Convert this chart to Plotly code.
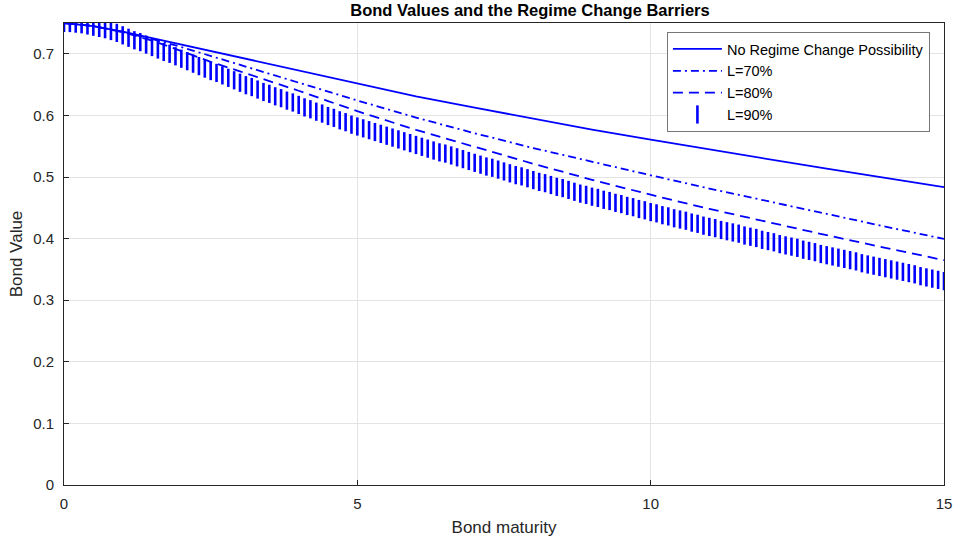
import plotly.graph_objects as go

# Bond maturity (years) for the three line series
t_line = [0, 0.5, 1, 1.5, 2, 2.5, 3, 3.5, 4, 4.5, 5, 6, 7, 8, 9, 10, 11, 12, 13, 14, 15]
no_regime = [0.750, 0.745, 0.736, 0.7255, 0.715, 0.704, 0.6935, 0.683, 0.6725, 0.6618, 0.6513,
             0.631, 0.6125, 0.5945, 0.577, 0.5605, 0.5445, 0.5288, 0.5135, 0.4985, 0.4835]
l70 = [0.750, 0.745, 0.7355, 0.724, 0.711, 0.6965, 0.6822, 0.6678, 0.6533, 0.6386, 0.6242,
       0.5965, 0.571, 0.547, 0.5243, 0.5028, 0.4813, 0.4603, 0.4397, 0.4195, 0.3995]
l80 = [0.750, 0.745, 0.735, 0.7215, 0.7045, 0.687, 0.6715, 0.656, 0.640, 0.6233, 0.6068,
       0.5765, 0.5485, 0.5215, 0.4955, 0.4712, 0.4482, 0.4263, 0.4055, 0.385, 0.365]

# L=90% series (dense marker series), maturity step 0.1
t_l90 = [i / 10 for i in range(151)]
l90 = [
    0.750, 0.750, 0.749, 0.748, 0.746, 0.744, 0.742, 0.740, 0.737, 0.734,
    0.730, 0.726, 0.722, 0.719, 0.715, 0.711, 0.707, 0.703, 0.700, 0.696,
    0.692, 0.688, 0.684, 0.680, 0.676, 0.672, 0.669, 0.665, 0.661, 0.657,
    0.653, 0.649, 0.646, 0.642, 0.638, 0.635, 0.631, 0.628, 0.624, 0.621,
    0.617, 0.613, 0.610, 0.606, 0.603, 0.599, 0.596, 0.592, 0.589, 0.585,
    0.582, 0.579, 0.576, 0.573, 0.570, 0.567, 0.564, 0.561, 0.558, 0.555,
    0.552, 0.549, 0.546, 0.543, 0.540, 0.538, 0.535, 0.532, 0.529, 0.526,
    0.523, 0.520, 0.517, 0.515, 0.512, 0.509, 0.506, 0.503, 0.501, 0.498,
    0.495, 0.492, 0.490, 0.487, 0.484, 0.482, 0.479, 0.476, 0.473, 0.471,
    0.468, 0.466, 0.463, 0.461, 0.458, 0.456, 0.453, 0.451, 0.448, 0.446,
    0.443, 0.441, 0.438, 0.436, 0.433, 0.431, 0.429, 0.426, 0.424, 0.421,
    0.419, 0.417, 0.414, 0.412, 0.410, 0.408, 0.405, 0.403, 0.401, 0.398,
    0.396, 0.394, 0.391, 0.389, 0.387, 0.385, 0.382, 0.380, 0.378, 0.375,
    0.373, 0.371, 0.369, 0.367, 0.365, 0.363, 0.360, 0.358, 0.356, 0.354,
    0.352, 0.350, 0.348, 0.346, 0.344, 0.342, 0.339, 0.337, 0.335, 0.333,
    0.331,
]

x_ticks = [0, 5, 10, 15]
y_ticks = [0, 0.1, 0.2, 0.3, 0.4, 0.5, 0.6, 0.7]
y_tick_labels = ["0", "0.1", "0.2", "0.3", "0.4", "0.5", "0.6", "0.7"]

BLUE = "#0000ff"
FONT = "Liberation Sans, Arial, sans-serif"
AX = "#262626"

fig = go.Figure()
fig.add_trace(go.Scatter(x=t_line, y=no_regime, mode="lines", name="No Regime Change Possibility",
                         line=dict(color=BLUE, width=1.8)))
fig.add_trace(go.Scatter(x=t_line, y=l70, mode="lines", name="L=70%",
                         line=dict(color=BLUE, width=1.8, dash="8px,4px,2px,4px")))
fig.add_trace(go.Scatter(x=t_line, y=l80, mode="lines", name="L=80%",
                         line=dict(color=BLUE, width=1.8, dash="10px,6px")))
fig.add_trace(go.Scatter(x=t_l90, y=l90, mode="markers", name="L=90%",
                         marker=dict(symbol="line-ns", size=13, color=BLUE,
                                     line=dict(color=BLUE, width=2.6))))

fig.update_layout(
    width=955, height=543,
    margin=dict(l=64, r=11, t=23, b=58, autoexpand=False),
    paper_bgcolor="white", plot_bgcolor="white",
    font=dict(family=FONT, size=15, color=AX),
    title=dict(text="<b>Bond Values and the Regime Change Barriers</b>", x=530 / 955, xanchor="center",
               y=1 - 10 / 543, yanchor="middle", font=dict(family=FONT, size=16.5, color="black")),
    showlegend=True,
    legend=dict(x=0.984, y=(485 - 32) / 462, xanchor="right", yanchor="top", bgcolor="white",
                bordercolor="#777777", borderwidth=1, font=dict(family=FONT, size=14.5, color="black"),
                tracegroupgap=0, itemwidth=49),
)
fig.update_xaxes(range=[0, 15], tickvals=x_ticks, ticktext=[str(v) for v in x_ticks],
                 showgrid=True, gridcolor="#e3e3e3", gridwidth=1, zeroline=False,
                 showline=True, linecolor=AX, linewidth=1, mirror=True, automargin=False,
                 ticks="inside", ticklen=5, tickcolor=AX, ticklabelstandoff=5,
                 title=dict(text="Bond maturity", standoff=10, font=dict(size=17)))
fig.update_yaxes(range=[0, 0.75], tickvals=y_ticks, ticktext=y_tick_labels,
                 showgrid=True, gridcolor="#e3e3e3", gridwidth=1, zeroline=False,
                 showline=True, linecolor=AX, linewidth=1, mirror=True, automargin=False,
                 ticks="inside", ticklen=5, tickcolor=AX, ticklabelstandoff=6,
                 title=dict(text="Bond Value", standoff=6, font=dict(size=17)))

fig.write_html("out.html")
